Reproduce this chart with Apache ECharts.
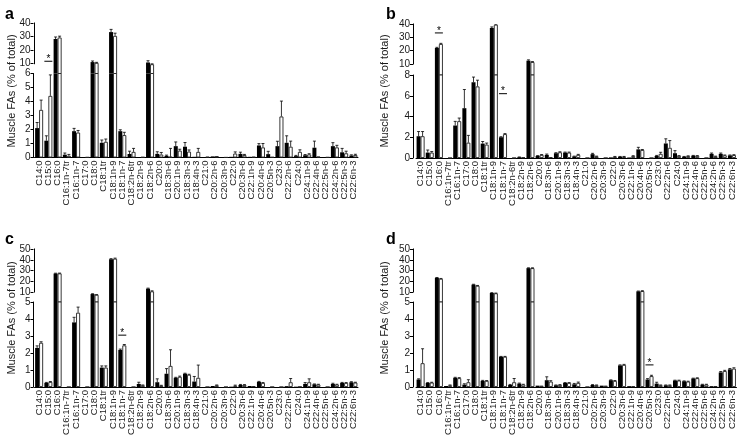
<!DOCTYPE html>
<html>
<head>
<meta charset="utf-8">
<script src="https://cdn.jsdelivr.net/npm/echarts@6/dist/echarts.min.js"></script>
<style>html,body{margin:0;padding:0;background:#fff}#c{width:739px;height:438px}</style>
</head>
<body>
<div id="c"></div>
<script>
const categories = ['C14:0','C15:0','C16:0','C16:1n-7tr','C16:1n-7','C17:0','C18:0','C18:1tr','C18:1n-9','C18:1n-7','C18:2n-6tr','C18:2n-9','C18:2n-6','C20:0','C18:3n-6','C20:1n-9','C18:3n-3','C18:4n-3','C21:0','C20:2n-6','C20:3n-9','C22:0','C20:3n-6','C22:1n-9','C20:4n-6','C20:5n-3','C23:0','C22:2n-6','C24:0','C24:1n-9','C22:4n-6','C22:5n-6','C24:2n-6','C22:5n-3','C22:6n-3'];

// Panel a
const aBlack    = [2.1,1.2,28.2,0.2,1.88,0.02,11.2,1.05,33.3,1.88,0.25,0.03,10.9,0.26,0.12,0.81,0.77,0.05,0.03,0.08,0.01,0.05,0.26,0.05,0.86,0.24,0.81,1.05,0.1,0.16,0.7,0.02,0.81,0.37,0.14];
const aBlackErr = [0.4,0.35,1.5,0.12,0.2,0,0.8,0.2,2,0.1,0.2,0,1.3,0.15,0.05,0.3,0.3,0,0,0,0,0,0.12,0,0.13,0.2,0.35,0.5,0.05,0.05,0.47,0,0.25,0.28,0.05];
const aWhite    = [3.4,4.4,29.3,0.12,1.78,0.02,10.6,1.12,30.5,1.6,0.4,0.03,9.6,0.21,0.05,0.49,0.42,0.4,0.05,0.1,0.01,0.28,0.17,0.05,0.72,0.03,2.93,0.77,0.4,0.22,0.07,0.02,0.72,0.3,0.18];
const aWhiteErr = [0.7,1.5,1.0,0.1,0.15,0,0.4,0.2,2,0.2,0.25,0,0.3,0.15,0.6,0.1,0.12,0.25,0,0,0,0.12,0.05,0,0.28,0,1.1,0.4,0.15,0.05,0,0,0.15,0.15,0.05];

// Panel b
const bBlack    = [2.1,0.52,22,0,3.13,4.8,7.3,1.39,37,2.0,0,0.08,12.5,0.2,0.3,0.46,0.52,0.15,0,0.37,0,0.06,0.12,0.05,0.83,0,0.2,1.4,0.46,0.12,0.22,0,0.4,0.4,0.25];
const bBlackErr = [0.45,0.25,0.5,0,0.4,1.8,0.5,0.2,0.8,0.05,0,0.02,0.6,0.03,0.08,0.05,0.05,0.03,0,0.08,0,0,0.03,0,0.2,0,0.05,0.45,0.25,0.03,0.03,0,0.08,0.08,0.04];
const bWhite    = [2.1,0.52,25,0,3.55,1.48,6.9,1.29,39.5,2.3,0,0.06,11.5,0.3,0.08,0.55,0.52,0.3,0,0.15,0,0.12,0.12,0.18,0.77,0,0.4,0.98,0.2,0.18,0.2,0,0.15,0.25,0.28];
const bWhiteErr = [0.45,0.1,0.5,0,0.3,0.7,0.6,0.15,0.5,0.05,0,0,0.3,0.03,0,0.05,0.05,0.05,0,0.03,0,0.03,0.03,0.04,0.05,0,0.15,0.7,0.03,0.03,0.03,0,0.03,0.04,0.04];

// Panel c
const cBlack    = [2.3,0.24,27.2,0,3.8,0,8.1,1.14,40.5,2.18,0,0.18,13.1,0.28,0.78,0.54,0.78,0.32,0,0.06,0,0.02,0.12,0.06,0.3,0,0,0.05,0.02,0.18,0.16,0,0.18,0.24,0.28];
const cBlackErr = [0.12,0.03,0.3,0,0.3,0,0.3,0.1,0.5,0.05,0,0.1,0.5,0.2,0.3,0.03,0.03,0.3,0,0,0,0,0.03,0,0.03,0,0,0,0,0.08,0.02,0,0.04,0.03,0.03];
const cWhite    = [2.6,0.3,27.3,0,4.37,0,7.4,1.14,41,2.45,0,0.1,10.6,0.08,1.24,0.6,0.72,0.54,0,0.1,0,0.08,0.12,0.05,0.24,0,0,0.28,0.02,0.28,0.14,0,0.14,0.24,0.26];
const cWhiteErr = [0.06,0.02,0.3,0,0.33,0,0.2,0.1,0.5,0.05,0,0.02,0.5,0.02,0.95,0.04,0.03,0.75,0,0.02,0,0.03,0.02,0,0.02,0,0,0.22,0,0.2,0.02,0,0.02,0.02,0.02];

// Panel d
const dBlack    = [0.44,0.24,23.2,0.06,0.54,0.14,16.9,0.36,9.1,1.78,0.12,0.2,32.2,0.08,0.4,0.1,0.24,0.16,0,0.12,0.08,0.4,1.27,0.05,10.6,0.44,0.2,0.1,0.38,0.34,0.5,0.14,0.05,0.86,1.04];
const dBlackErr = [0.04,0.02,0.3,0,0.03,0.05,0.3,0.03,0.3,0.02,0.03,0.03,0.3,0,0.2,0.02,0.02,0.05,0,0.02,0,0.02,0.03,0,0.3,0.05,0.08,0.02,0.02,0.02,0.02,0.02,0,0.05,0.05];
const dWhite    = [1.4,0.26,22.3,0.1,0.52,0.28,15.8,0.36,8.8,1.78,0.28,0.14,32.2,0.08,0.32,0.12,0.24,0.24,0,0.1,0.08,0.36,1.3,0.04,10.9,0.64,0.1,0.1,0.38,0.32,0.52,0.14,0.05,0.94,1.08];
const dWhiteErr = [0.85,0.02,0.3,0.02,0.03,0.15,0.3,0.02,0.2,0.02,0.22,0.02,0.3,0,0.05,0.02,0.02,0.05,0,0.02,0,0.02,0.03,0,0.3,0.05,0.02,0.02,0.02,0.02,0.02,0.02,0,0.04,0.05];

// significance markers: [category index, value at which the bracket sits, segment]
const aStars = [[1, 11.8, 'upper']];
const bStars = [[2, 33.3, 'upper'], [9, 6.2, 'lower']];
const cStars = [[9, 3.05, 'lower']];
const dStars = [[25, 1.3, 'lower']];

const yName = 'Muscle FAs (% of total)';
const upperTicksAB = [10, 20, 30, 40];
const upperTicksCD = [10, 20, 30, 40, 50];

const panels = [
  {letter:'a', black:aBlack, blackErr:aBlackErr, white:aWhite, whiteErr:aWhiteErr, stars:aStars,
   left:34.5, width:323.5, upTop:23, lowTop:73.5, lowH:84, lowMax:6, lowInt:1, upMin:2.78, upMax:40, upTicks:upperTicksAB, off:1},
  {letter:'b', black:bBlack, blackErr:bBlackErr, white:bWhite, whiteErr:bWhiteErr, stars:bStars,
   left:416, width:320.5, upTop:24, lowTop:75, lowH:83, lowMax:8, lowInt:2, upMin:1.75, upMax:40, upTicks:upperTicksAB, off:3},
  {letter:'c', black:cBlack, blackErr:cBlackErr, white:cWhite, whiteErr:cWhiteErr, stars:cStars,
   left:34.5, width:323.5, upTop:249, lowTop:302, lowH:85, lowMax:5, lowInt:1, upMin:0.7, upMax:50, upTicks:upperTicksCD, off:1},
  {letter:'d', black:dBlack, blackErr:dBlackErr, white:dWhite, whiteErr:dWhiteErr, stars:dStars,
   left:416, width:320.5, upTop:249, lowTop:302, lowH:85, lowMax:5, lowInt:1, upMin:0.7, upMax:50, upTicks:upperTicksCD, off:3}
];

const BW = 4;
const textColor = '#1a1a1a';

function errRender(params, api) {
  const i = api.value(0), v = api.value(1), e = api.value(2), s = api.value(3);
  if (!(e > 0)) return null;
  const p0 = api.coord([i, v]);
  const p1 = api.coord([i, v + e]);
  const x = p0[0] + (s ? BW / 2 : -BW / 2);
  const style = {stroke: '#000', lineWidth: 0.8};
  return {type: 'group', children: [
    {type: 'line', shape: {x1: x, y1: p0[1], x2: x, y2: p1[1]}, style: style},
    {type: 'line', shape: {x1: x - 1.5, y1: p1[1], x2: x + 1.5, y2: p1[1]}, style: style}
  ]};
}
function starRender(params, api) {
  const i = api.value(0), v = api.value(1);
  const p = api.coord([i, v]);
  return {type: 'group', children: [
    {type: 'line', shape: {x1: p[0] - BW, y1: p[1], x2: p[0] + BW, y2: p[1]}, style: {stroke: '#000', lineWidth: 1}},
    {type: 'text', x: p[0], y: p[1] + 3, style: {text: '*', fontSize: 10, fontFamily: 'Liberation Sans', fill: '#000', align: 'center', verticalAlign: 'bottom'}}
  ]};
}
// upper segment of the broken y axis: drawn from the first to the last tick value only
function makeAxisRender(off) {
  return function (params, api) {
    const y0 = api.coord([0, api.value(1)])[1];
    const y1 = api.coord([0, api.value(2)])[1];
    const x = Math.round(params.coordSys.x - off) + 0.5;
    return {type: 'line', shape: {x1: x, y1: y0 + 0.5, x2: x, y2: y1 - 0.5}, style: {stroke: '#000', lineWidth: 1}};
  };
}

const grid = [], xAxis = [], yAxis = [], series = [], title = [], graphic = [];
panels.forEach((P, k) => {
  const gU = grid.length, gL = gU + 1;
  grid.push({left: P.left, width: P.width, top: P.upTop, height: P.lowTop - P.upTop});
  grid.push({left: P.left, width: P.width, top: P.lowTop, height: P.lowH});
  xAxis.push({type: 'category', gridIndex: gU, data: categories, show: false});
  xAxis.push({type: 'category', gridIndex: gL, data: categories,
    axisLine: {lineStyle: {color: '#000', width: 1}}, axisTick: {show: false},
    axisLabel: {rotate: 90, interval: 0, fontSize: 9.5, margin: 3, color: textColor, fontFamily: 'Liberation Sans'}});
  yAxis.push({type: 'value', gridIndex: gU, min: P.upMin, max: P.upMax, offset: P.off,
    axisLine: {show: false},
    axisTick: {show: true, length: 3, customValues: P.upTicks, lineStyle: {color: '#000'}},
    axisLabel: {customValues: P.upTicks, fontSize: 10, margin: 3, color: textColor, fontFamily: 'Liberation Sans'},
    splitLine: {show: false}});
  yAxis.push({type: 'value', gridIndex: gL, min: 0, max: P.lowMax, interval: P.lowInt, offset: P.off,
    axisLine: {show: true, lineStyle: {color: '#000', width: 1}},
    axisTick: {show: true, length: 3, lineStyle: {color: '#000'}},
    axisLabel: {fontSize: 10, margin: 3, color: textColor, fontFamily: 'Liberation Sans'},
    splitLine: {show: false}});
  series.push({type: 'custom', xAxisIndex: gU, yAxisIndex: gU,
    data: [[0, P.upTicks[0], P.upTicks[P.upTicks.length - 1]]],
    renderItem: makeAxisRender(P.off), encode: {x: 0, y: 1}, silent: true, animation: false, z: 5});
  [[gU, 'upper'], [gL, 'lower']].forEach(([ax, seg]) => {
    const up = seg === 'upper';
    const bData = up ? P.black.map(v => v >= P.lowMax ? v : '-') : P.black;
    const wData = up ? P.white.map(v => v >= P.lowMax ? v : '-') : P.white;
    series.push({type: 'bar', xAxisIndex: ax, yAxisIndex: ax, data: bData, barWidth: BW, barGap: '0%', clip: true,
      itemStyle: {color: '#000', borderColor: '#000', borderWidth: 0}, silent: true, animation: false});
    series.push({type: 'bar', xAxisIndex: ax, yAxisIndex: ax, data: wData, barWidth: BW, barGap: '0%', clip: true,
      itemStyle: {color: '#fff', borderColor: '#222', borderWidth: 0.9}, silent: true, animation: false});
    const errData = [];
    P.black.forEach((v, i) => { if (up === (v >= P.lowMax)) errData.push([i, v, P.blackErr[i], 0]); });
    P.white.forEach((v, i) => { if (up === (v >= P.lowMax)) errData.push([i, v, P.whiteErr[i], 1]); });
    series.push({type: 'custom', xAxisIndex: ax, yAxisIndex: ax, data: errData, renderItem: errRender,
      encode: {x: 0, y: 1}, clip: true, silent: true, animation: false, z: 3});
    const st = P.stars.filter(s => s[2] === seg).map(s => [s[0], s[1]]);
    if (st.length) series.push({type: 'custom', xAxisIndex: ax, yAxisIndex: ax, data: st, renderItem: starRender,
      encode: {x: 0, y: 1}, silent: true, animation: false, z: 4});
  });
  const isRight = (k % 2) === 1, isBottom = k >= 2;
  title.push({text: P.letter, left: isRight ? 381 : 0, top: isBottom ? 227 : 2,
    textStyle: {fontSize: 16, fontWeight: 'bold', color: '#000', fontFamily: 'Liberation Sans'}});
  graphic.push({type: 'text', x: isRight ? 385 : 12, y: isBottom ? 318 : 91, rotation: Math.PI / 2,
    style: {text: yName, fontSize: 11, fontFamily: 'Liberation Sans', fill: textColor, align: 'center', verticalAlign: 'middle'}});
});

const chart = echarts.init(document.getElementById('c'), null, {renderer: 'canvas'});
chart.setOption({animation: false, backgroundColor: '#fff', title, grid, xAxis, yAxis, series, graphic});
</script>
</body>
</html>
